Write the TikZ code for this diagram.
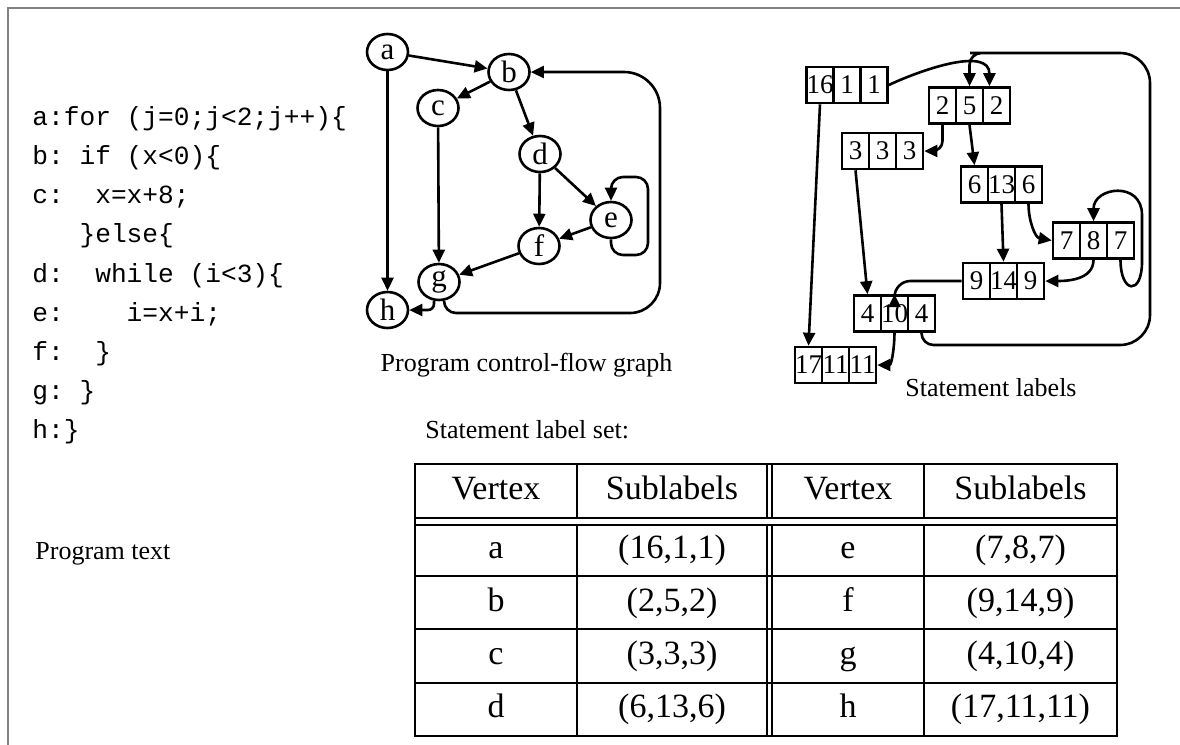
\documentclass[tikz,border=0pt]{standalone}
\usepackage{fontspec}
\setmainfont{Liberation Serif}
\setmonofont{Liberation Mono}
\usetikzlibrary{arrows.meta,shapes.geometric}

\definecolor{framegray}{RGB}{130,130,130}

% one statement label: three cells side by side
\newcommand{\slbox}[6]{%
  \node[cell] (#11) at (#2,#3) {#4};
  \node[cell] (#12) at (#2+27,#3) {#5};
  \node[cell] (#13) at (#2+54,#3) {#6};
}

\begin{document}
\begin{tikzpicture}[x=0.5pt, y=-0.5pt,
  >={Triangle[length=6.5pt,width=6pt]},
  vtx/.style={ellipse, draw, line width=1.3pt, minimum width=20.5pt, minimum height=18pt, inner sep=0pt, font=\fontsize{15.5}{15.5}\selectfont},
  cell/.style={rectangle, draw, line width=1.3pt, minimum width=13.5pt, minimum height=18pt, inner sep=0pt, font=\fontsize{13.5}{13.5}\selectfont},
  flow/.style={->, line width=1.3pt},
  lbl/.style={inner sep=0pt, font=\fontsize{13}{13}\selectfont},
  codetext/.style={inner sep=0pt, align=left, font=\ttfamily\fontsize{13.1}{19.6}\selectfont},
  tbl/.style={line width=0.9pt},
  tcell/.style={inner sep=0pt, text height=12pt, text depth=4pt, font=\fontsize{17}{17}\selectfont}]
\useasboundingbox (0,0) rectangle (1180,745);
\draw[framegray, line width=1pt] (8,745) -- (8,8) -- (1180,8);

% program text
\node[codetext, anchor=north west] (code) at (32,106) {a:for (j=0;j<2;j++)\{\\
b: if (x<0)\{\\
c:\ \ x=x+8;\\
\ \ \ \}else\{\\
d:\ \ while (i<3)\{\\
e:\ \ \ \ i=x+i;\\
f:\ \ \}\\
g:\ \}\\
h:\}};
\node[lbl, anchor=base west] (ptext) at (35,559) {Program text};

% control-flow graph
\node[vtx] (a) at (387.5,52) {a};
\node[vtx] (b) at (509,72) {b};
\node[vtx] (c) at (438,108) {c};
\node[vtx] (d) at (540,154) {d};
\node[vtx] (e) at (611,220) {e};
\node[vtx] (f) at (539,246) {f};
\node[vtx] (g) at (439,282) {g};
\node[vtx] (h) at (387.5,310) {h};

\draw[flow] (a) -- (b);
\draw[flow] (a) -- (h);
\draw[flow] (b) -- (c);
\draw[flow] (b) -- (d);
\draw[flow] (c) -- (g);
\draw[flow] (d) -- (f);
\draw[flow] (d) -- (e);
\draw[flow] (e) -- (f);
\draw[flow] (f) -- (g);
\draw[flow, rounded corners=6pt] (e.south) |- (648,255) |- (611,177) -- (e.north);
\draw[flow, rounded corners=3pt] (g.-105) |- (h.east);
\draw[flow] (g.-75) [rounded corners=6pt] |- (560,313) [rounded corners=15pt] -| (660,200) [rounded corners=18pt] |- (b.east);

\node[lbl, anchor=base] (cfglabel) at (526.5,371) {Program control-flow graph};

% statement labels
\slbox{la}{820}{85}{16}{1}{1}
\slbox{lb}{942.5}{105.5}{2}{5}{2}
\slbox{lc}{855.5}{151}{3}{3}{3}
\slbox{ld}{974.5}{184.5}{6}{13}{6}
\slbox{le}{1066.5}{240.5}{7}{8}{7}
\slbox{lf}{976.5}{281}{9}{14}{9}
\slbox{lg}{867.5}{313.5}{4}{10}{4}
\slbox{lh}{808.5}{365}{17}{11}{11}

\coordinate (lebot) at (1142,262);
\coordinate (letop) at (1142,215);

\draw[flow] (la3.east) to[out=25,in=90] (lb3.110);
\draw[flow] (la1.south) -- (lh1.north);
\draw[flow, rounded corners=5pt] (lb1.south) |- (lc3.east);
\draw[flow] (lb2.south) -- (ld1.north);
\draw[flow] (lc1.south) -- (lg1.north);
\draw[flow] (ld2.south) -- (lf2.north);
\draw[flow] (ld3.south) to[out=-90,in=170] (le1.west);
\draw[flow] (le2.south) to[out=-90,in=0] (lf3.east);
\draw[flow, rounded corners=8pt] (lf1.west) -| (lg2.north);
\draw[flow] (lg2.south) to[out=-90,in=0] (lh3.east);
\draw[flow] (le3.south) to[out=-90,in=-90,looseness=4] (lebot) -- (letop) to[out=90,in=90,looseness=1.8] (le2.north);
\draw[flow] (lg3.south) [rounded corners=6pt] |- (1050,345) [rounded corners=15pt] -| (1150,200) |- (1000,53) [rounded corners=6pt] -| (lb2.north);

\node[lbl, anchor=base] (stlabel) at (991,396) {Statement labels};

% label set table
\node[lbl, anchor=base west] (setlabel) at (425,438) {Statement label set:};
\draw[tbl] (415,464) rectangle (1117,736);
\foreach \yy in {518,525,576,629,683} \draw[tbl] (415,\yy) -- (1117,\yy);
\foreach \xx in {577,767,772,924} {
  \draw[tbl] (\xx,464) -- (\xx,518);
  \draw[tbl] (\xx,525) -- (\xx,736);
}
\node[tcell] (h1) at (496,491) {Vertex};
\node[tcell] (h2) at (672,491) {Sublabels};
\node[tcell] (h3) at (848,491) {Vertex};
\node[tcell] (h4) at (1020.5,491) {Sublabels};
\foreach \v/\s/\w/\t [count=\r] in {a/{(16,1,1)}/e/{(7,8,7)}, b/{(2,5,2)}/f/{(9,14,9)}, c/{(3,3,3)}/g/{(4,10,4)}, d/{(6,13,6)}/h/{(17,11,11)}} {
  \node[tcell] (v\r) at (496,497.5+53*\r) {\v};
  \node[tcell] (s\r) at (672,497.5+53*\r) {\s};
  \node[tcell] (w\r) at (848,497.5+53*\r) {\w};
  \node[tcell] (t\r) at (1020.5,497.5+53*\r) {\t};
}
\end{tikzpicture}
\end{document}
